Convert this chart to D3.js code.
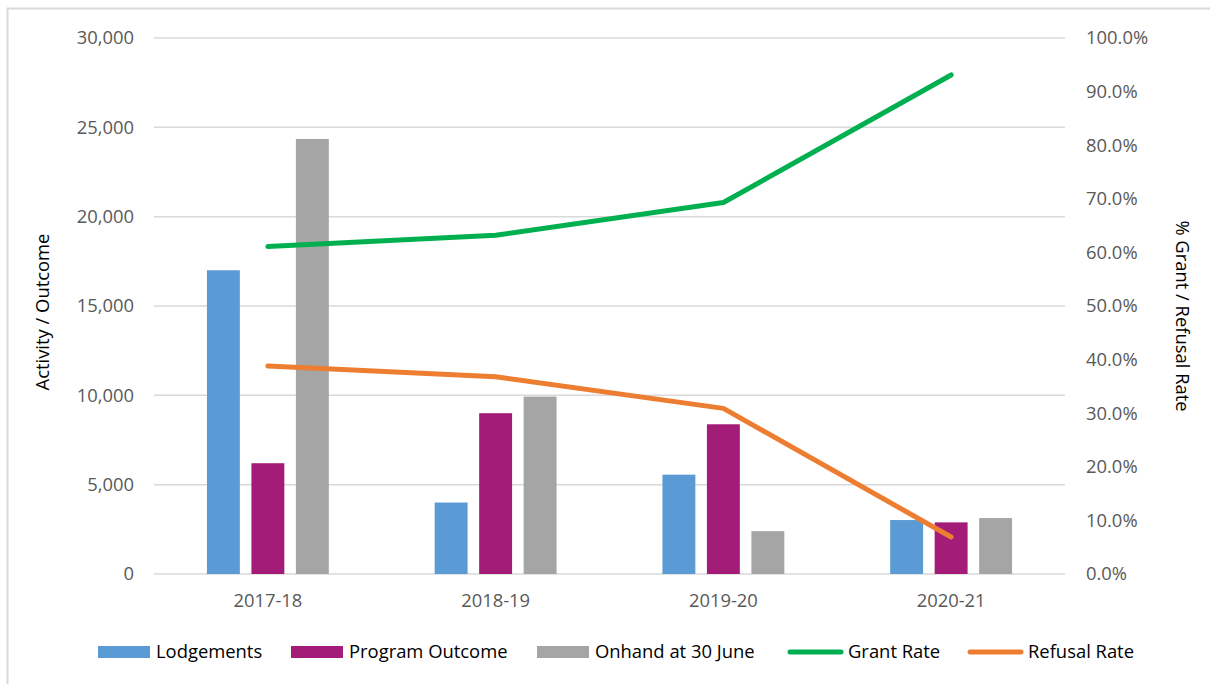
<!DOCTYPE html>
<html>
<head>
<meta charset="utf-8">
<script src="https://cdn.jsdelivr.net/npm/d3@7"></script>
<style>
  body { margin: 0; background: #fff; }
  svg { display: block; font-family: "Open Sans", sans-serif; }
</style>
</head>
<body>
<svg width="1210" height="684"></svg>
<script>
// chart data
const years = ["2017-18", "2018-19", "2019-20", "2020-21"];
const lodgements = [17000, 4000, 5560, 3020];
const programOutcome = [6200, 9000, 8380, 2890];
const onhand = [24350, 9930, 2400, 3130];
const grantRate = [0.611, 0.632, 0.693, 0.931];
const refusalRate = [0.388, 0.368, 0.309, 0.069];
const leftTicks = [0, 5000, 10000, 15000, 20000, 25000, 30000];
const rightTicks = [0, 0.1, 0.2, 0.3, 0.4, 0.5, 0.6, 0.7, 0.8, 0.9, 1.0];

const barSeries = [
    {name: "Lodgements", values: lodgements, color: "#5B9BD5"},
    {name: "Program Outcome", values: programOutcome, color: "#A21C78"},
    {name: "Onhand at 30 June", values: onhand, color: "#A5A5A5"}
];
const lineSeries = [
    {name: "Grant Rate", values: grantRate, color: "#00B050"},
    {name: "Refusal Rate", values: refusalRate, color: "#ED7D31"}
];

const plot = {left: 154, right: 1065, top: 38, bottom: 574};
const FONT = "18.4px";

const svg = d3.select("svg");

// outer frame
svg.append("rect")
    .attr("x", 7.5).attr("y", 8.5)
    .attr("width", 1220).attr("height", 700)
    .attr("fill", "none")
    .attr("stroke", "#D9D9D9")
    .attr("stroke-width", 2);

const x0 = d3.scaleBand()
    .domain(years)
    .range([plot.left, plot.right])
    .padding(0);

const x1 = d3.scaleBand()
    .domain(barSeries.map((s) => s.name))
    .range([0, x0.bandwidth()])
    .paddingInner(0.26)
    .paddingOuter(1.19);

const y = d3.scaleLinear().domain([0, 30000]).range([plot.bottom, plot.top]);
const y2 = d3.scaleLinear().domain([0, 1]).range([plot.bottom, plot.top]);

// gridlines
svg.append("g")
    .selectAll("line")
    .data(leftTicks)
    .join("line")
    .attr("x1", plot.left).attr("x2", plot.right)
    .attr("y1", (d) => y(d)).attr("y2", (d) => y(d))
    .attr("stroke", "#D9D9D9")
    .attr("stroke-width", 1.5);

// left axis
const leftAxis = svg.append("g")
    .attr("transform", `translate(${plot.left - 20},0)`)
    .call(d3.axisLeft(y).tickValues(leftTicks).tickFormat(d3.format(",")).tickSize(0).tickPadding(0));
leftAxis.select(".domain").remove();
leftAxis.selectAll("text")
    .attr("fill", "#595959")
    .style("font-size", FONT)
    .style("font-family", "Open Sans");

// right axis
const rightAxis = svg.append("g")
    .attr("transform", `translate(${plot.right + 21},0)`)
    .call(d3.axisRight(y2).tickValues(rightTicks).tickFormat(d3.format(".1%")).tickSize(0).tickPadding(0));
rightAxis.select(".domain").remove();
rightAxis.selectAll("text")
    .attr("fill", "#595959")
    .style("font-size", FONT)
    .style("font-family", "Open Sans");

// category axis
const bottomAxis = svg.append("g")
    .attr("transform", `translate(0,${plot.bottom + 20})`)
    .call(d3.axisBottom(x0).tickSize(0).tickPadding(0));
bottomAxis.select(".domain").remove();
bottomAxis.selectAll("text")
    .attr("dy", "0.71em")
    .attr("fill", "#595959")
    .style("font-size", FONT)
    .style("font-family", "Open Sans");

// bars
const groups = svg.append("g")
    .selectAll("g")
    .data(years)
    .join("g")
    .attr("transform", (d) => `translate(${x0(d)},0)`);

groups.selectAll("rect")
    .data((d, i) => barSeries.map((s) => ({name: s.name, value: s.values[i], color: s.color})))
    .join("rect")
    .attr("x", (d) => x1(d.name))
    .attr("width", x1.bandwidth())
    .attr("y", (d) => y(d.value))
    .attr("height", (d) => y(0) - y(d.value))
    .attr("fill", (d) => d.color);

// lines
const line = d3.line()
    .x((d, i) => x0(years[i]) + x0.bandwidth() / 2)
    .y((d) => y2(d));

svg.append("g")
    .selectAll("path")
    .data(lineSeries)
    .join("path")
    .attr("d", (d) => line(d.values))
    .attr("fill", "none")
    .attr("stroke", (d) => d.color)
    .attr("stroke-width", 5)
    .attr("stroke-linecap", "round")
    .attr("stroke-linejoin", "round");

// axis titles
svg.append("text")
    .attr("transform", "translate(49,312) rotate(-90)")
    .attr("text-anchor", "middle")
    .attr("fill", "#000")
    .style("font-size", FONT)
    .text("Activity / Outcome");

svg.append("text")
    .attr("transform", "translate(1176,316) rotate(90)")
    .attr("text-anchor", "middle")
    .attr("fill", "#000")
    .style("font-size", FONT)
    .text("% Grant / Refusal Rate");

// legend
const legendY = 652;
const legendItems = [
    {name: "Lodgements", color: "#5B9BD5", kind: "bar", x: 98},
    {name: "Program Outcome", color: "#A21C78", kind: "bar", x: 291},
    {name: "Onhand at 30 June", color: "#A5A5A5", kind: "bar", x: 537},
    {name: "Grant Rate", color: "#00B050", kind: "line", x: 788},
    {name: "Refusal Rate", color: "#ED7D31", kind: "line", x: 968}
];

const legend = svg.append("g")
    .selectAll("g")
    .data(legendItems)
    .join("g")
    .attr("transform", (d) => `translate(${d.x},${legendY})`);

legend.filter((d) => d.kind === "bar")
    .append("rect")
    .attr("x", 0).attr("y", -6)
    .attr("width", 52).attr("height", 12)
    .attr("fill", (d) => d.color);

legend.filter((d) => d.kind === "line")
    .append("line")
    .attr("x1", 2).attr("x2", 53)
    .attr("y1", 0).attr("y2", 0)
    .attr("stroke", (d) => d.color)
    .attr("stroke-width", 5)
    .attr("stroke-linecap", "round");

legend.append("text")
    .attr("x", (d) => d.kind === "bar" ? 58 : 60)
    .attr("dy", "0.35em")
    .attr("fill", "#000")
    .style("font-size", FONT)
    .text((d) => d.name);
</script>
</body>
</html>
